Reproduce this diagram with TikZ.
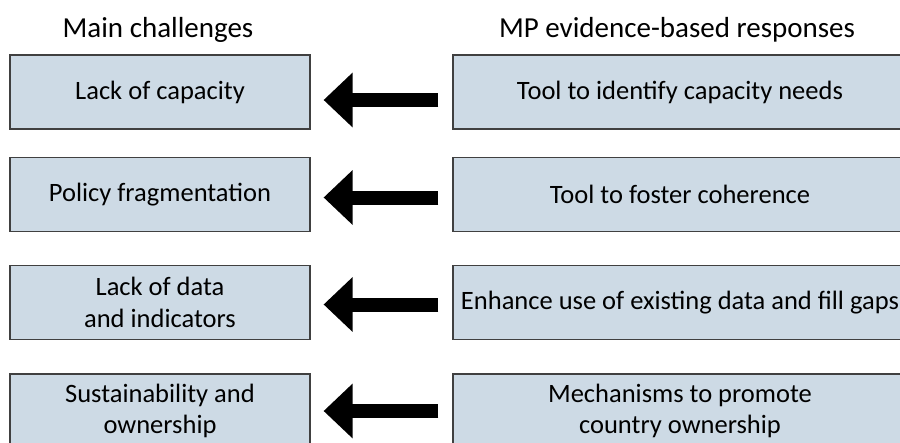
\documentclass[tikz,border=0pt]{standalone}
\usepackage{fontspec}
\setmainfont{Carlito}
\usetikzlibrary{arrows.meta}
\definecolor{boxblue}{HTML}{CDDAE5}

\begin{document}
\begin{tikzpicture}[x=1pt,y=-1pt,
	box/.style={draw=black!75,line width=1.2pt,fill=boxblue,align=center,inner sep=0pt,
		minimum height=74pt,font=\fontsize{26.5}{31.5}\selectfont},
	lbox/.style={box,minimum width=300pt},
	rbox/.style={box,minimum width=454pt},
	head/.style={anchor=base,font=\fontsize{29}{34}\selectfont},
	bigarrow/.style={line width=14pt,-{Triangle[length=29pt,width=53pt]},
		shorten <=14pt,shorten >=13pt}]
	\useasboundingbox (0,0) rectangle (900,442);
			\node[head] (h1) at (158,37) {Main challenges};
			\node[head] (h2) at (677,37) {MP evidence-based responses};
			\node[lbox] (c1) at (160,92) {Lack of capacity};
			\node[lbox] (c2) at (160,194.5) {Policy fragmentation};
			\node[lbox] (c3) at (160,302.5) {Lack of data\\and indicators};
			\node[lbox] (c4) at (160,411) {Sustainability and\\ownership};
			\node[rbox] (r1) at (680,92) {Tool to identify capacity needs};
			\node[rbox] (r2) at (680,194.5) {Tool to foster coherence};
			\node[rbox] (r3) at (680,302.5) {Enhance use of existing data and fill gaps};
			\node[rbox] (r4) at (680,411) {Mechanisms to promote\\country ownership};
			\draw[bigarrow] ([yshift=-8pt]r1.west) -- ([yshift=-8pt]c1.east);
			\draw[bigarrow] ([yshift=-3pt]r2.west) -- ([yshift=-3pt]c2.east);
			\draw[bigarrow] ([yshift=-2pt]r3.west) -- ([yshift=-2pt]c3.east);
			\draw[bigarrow] (r4.west) -- (c4.east);
		\end{tikzpicture}
\end{document}
